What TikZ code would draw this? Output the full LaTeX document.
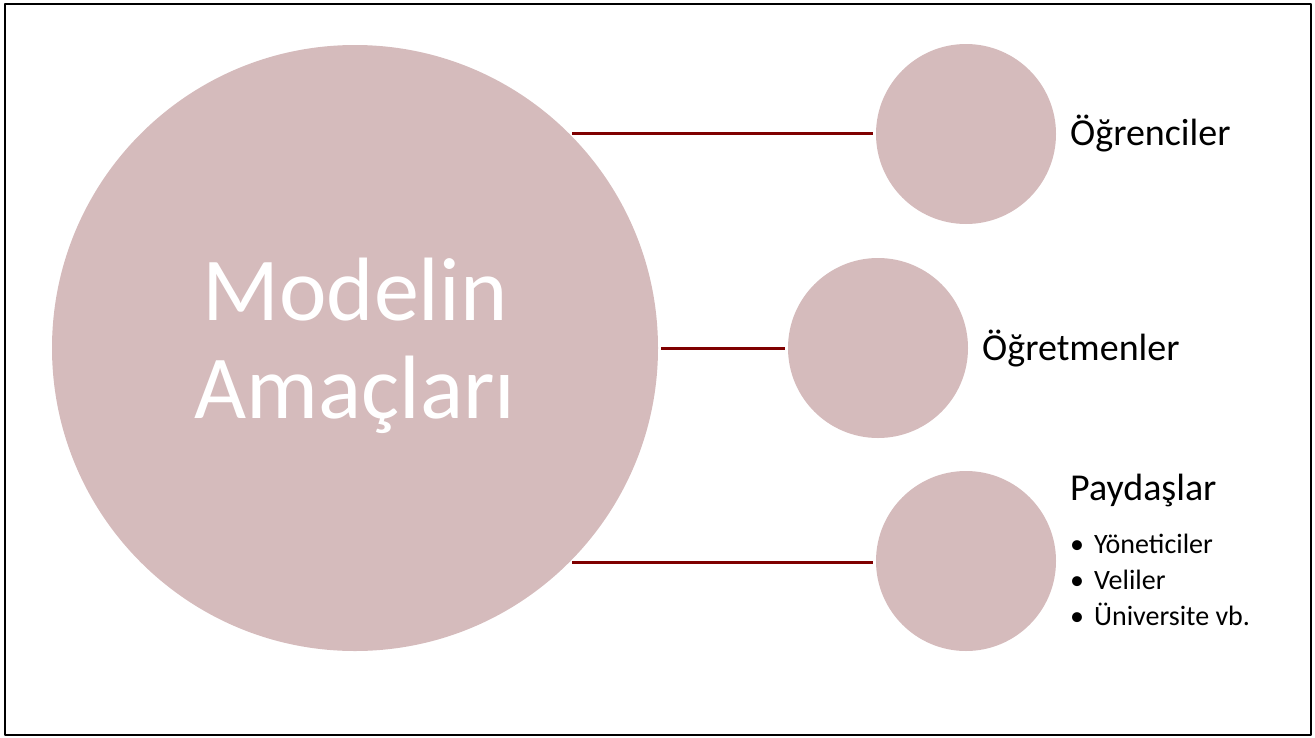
\documentclass[tikz,border=0pt]{standalone}
\usepackage{fontspec}
\setmainfont{Carlito}
\usetikzlibrary{positioning}
\definecolor{pembe}{HTML}{D5BBBC}
\definecolor{bordo}{HTML}{7F0000}
\tikzset{
  buyuk/.style={circle, fill=pembe, minimum size=606pt, inner sep=0pt},
  kucuk/.style={circle, fill=pembe, minimum size=180pt, inner sep=0pt},
  bag/.style={draw=bordo, line width=3pt, shorten <=3pt, shorten >=3pt},
  baslik/.style={font=\fontsize{38}{44}\selectfont, inner sep=0pt, anchor=base west},
  madde/.style={font=\fontsize{28}{36}\selectfont, inner sep=0pt, anchor=base west}
}
\begin{document}
\begin{tikzpicture}[x=1pt,y=-1pt, line join=round]
\useasboundingbox (0,0) rectangle (1315,737);
\draw[line width=2pt] (5,4) rectangle (1311,735);
% daireler
\node[buyuk] (amac) at (355,348) {};
\node[kucuk] (ogr) at (966,134) {};
\node[kucuk] (ogt) at (878,348) {};
\node[kucuk] (pay) at (966,561) {};
% baglantilar
\draw[bag] (amac.45) -- (amac.45 -| ogr.west);
\draw[bag] (amac.east) -- (ogt.west);
\draw[bag] (amac.-45) -- (amac.-45 -| pay.west);
% yazilar
\node[white, font=\fontsize{90}{98}\selectfont, align=center, text width=500pt] (baslik) at (355,346) {Modelin\\Amaçları};
\node[baslik] (t1) at (1070,145) {Öğrenciler};
\node[baslik] (t2) at (982,360) {Öğretmenler};
\node[baslik] (t3) at (1070,500) {Paydaşlar};
\foreach \i/\yy/\t in {1/553/Yöneticiler, 2/589/Veliler, 3/625/Üniversite vb.}{
  \node[madde] (b\i) at (1070,\yy) {\textbullet\hspace{10pt}\t};
}
\end{tikzpicture}
\end{document}
